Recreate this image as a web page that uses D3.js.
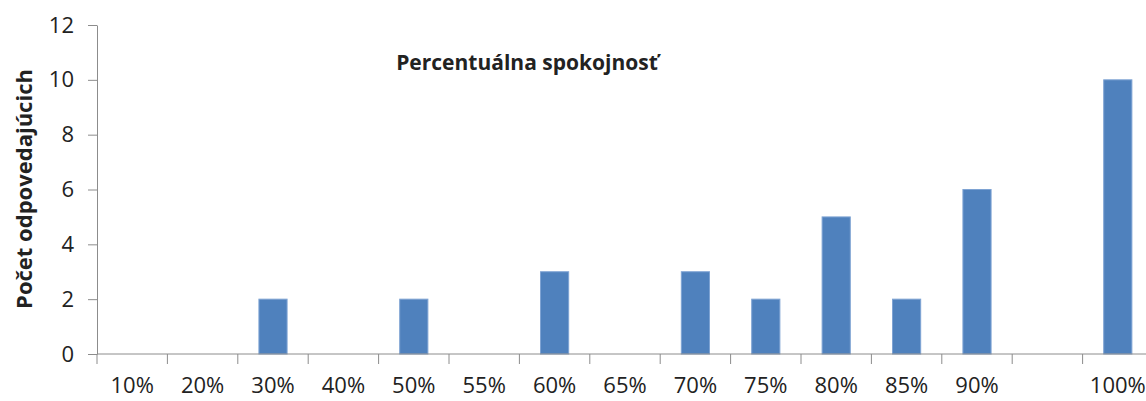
<!DOCTYPE html>
<html>
<head>
<meta charset="utf-8">
<script src="https://cdn.jsdelivr.net/npm/d3@7"></script>
<style>
    body { margin: 0; background: #fff; }
    svg text { font-family: "Open Sans", "Noto Sans", sans-serif; fill: #222; }
</style>
</head>
<body>
<svg class="chart"></svg>
<script>
// categories on the x axis (one has no label in the original)
var categories = ["10%", "20%", "30%", "40%", "50%", "55%", "60%", "65%",
                  "70%", "75%", "80%", "85%", "90%", "", "100%"];
// number of respondents per category
var counts = [0, 0, 2, 0, 2, 0, 3, 0, 3, 2, 5, 2, 6, 0, 10];
var yTicks = [0, 2, 4, 6, 8, 10, 12];

var W = 1146, H = 401;
var margin = {top: 25, right: -7, bottom: 47, left: 97},
    width = W - margin.left - margin.right,
    height = H - margin.top - margin.bottom;

var svg = d3.select(".chart").attr("width", W).attr("height", H);
var chart = svg.append("g")
    .attr("transform", "translate(" + margin.left + "," + margin.top + ")");

var x = d3.scaleBand()
    .domain(d3.range(categories.length))
    .range([0, width])
    .paddingInner(0.6).paddingOuter(0.3);

var y = d3.scaleLinear().domain([0, 12]).range([height, 0]);

// bars
chart.selectAll(".bar")
    .data(counts).enter().append("rect")
    .attr("class", "bar")
    .attr("x", function (d, i) { return x(i); })
    .attr("width", x.bandwidth())
    .attr("y", function (d) { return y(d); })
    .attr("height", function (d) { return height - y(d); })
    .attr("fill", "#4F81BD")
    .attr("stroke", "#7ea3d3")
    .attr("stroke-width", 1)
    .style("display", function (d) { return d > 0 ? null : "none"; });

// y axis
var yAxis = chart.append("g")
    .call(d3.axisLeft(y).tickValues(yTicks).tickSize(9).tickPadding(14).tickSizeOuter(0));
yAxis.select(".domain").attr("stroke", "#8c8c8c");
yAxis.selectAll("line").attr("stroke", "#8c8c8c");
yAxis.selectAll("text").style("font-size", "22px").attr("fill", "#222");

// x axis with ticks between categories
var step = x.step();
var xg = chart.append("g").attr("transform", "translate(0," + height + ")");
xg.append("line").attr("x1", 0).attr("x2", width)
    .attr("stroke", "#8c8c8c");
xg.selectAll(".tk").data(d3.range(categories.length + 1)).enter().append("line")
    .attr("x1", function (i) { return i * step; })
    .attr("x2", function (i) { return i * step; })
    .attr("y1", 0).attr("y2", 10)
    .attr("stroke", "#8c8c8c");
xg.selectAll(".lbl").data(categories).enter().append("text")
    .attr("x", function (d, i) { return x(i) + x.bandwidth() / 2; })
    .attr("y", 39)
    .attr("text-anchor", "middle")
    .style("font-size", "22px")
    .text(function (d) { return d; });

// title
svg.append("text")
    .attr("x", 527).attr("y", 70)
    .attr("text-anchor", "middle")
    .style("font-size", "21px").style("font-weight", "bold")
    .text("Percentuálna spokojnosť");

// y axis title
svg.append("text")
    .attr("transform", "translate(32,189) rotate(-90)")
    .attr("text-anchor", "middle")
    .style("font-size", "22px").style("font-weight", "bold")
    .text("Počet odpovedajúcich");
</script>
</body>
</html>
